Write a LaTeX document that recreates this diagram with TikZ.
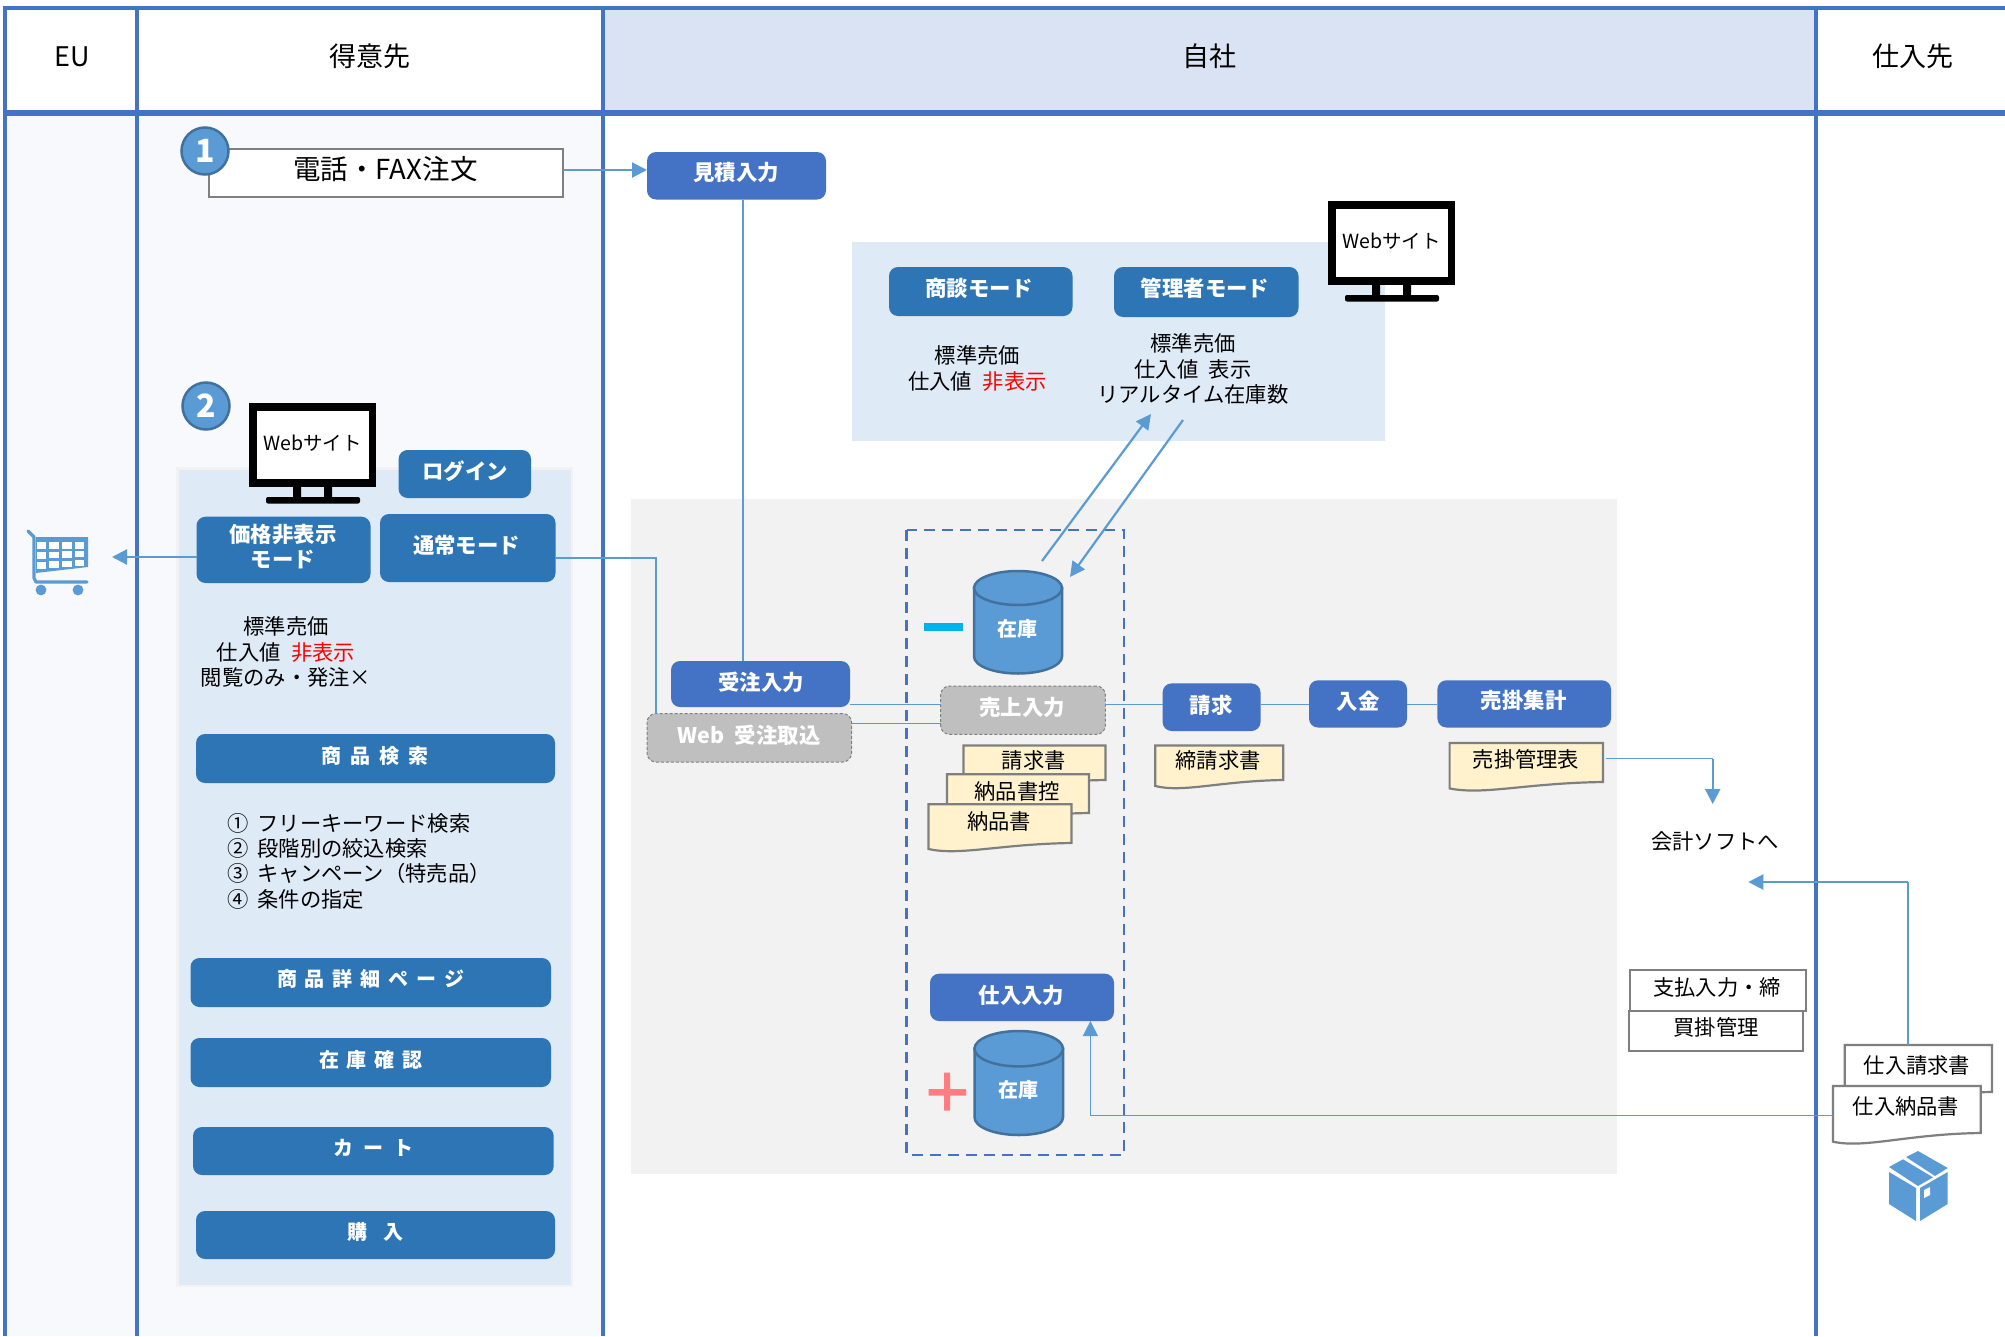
\documentclass[tikz,border=0pt]{standalone}
\usepackage{fontspec}
\setmainfont{Noto Sans CJK JP}
\usetikzlibrary{arrows.meta}
\definecolor{boxblue}{HTML}{4472C4}
\definecolor{midblue}{HTML}{2E75B6}
\definecolor{lineblue}{HTML}{5B9BD5}
\definecolor{cylborder}{HTML}{41719C}
\definecolor{panelblue}{HTML}{DEEAF6}
\definecolor{panelgray}{HTML}{F2F2F2}
\definecolor{bodytint}{HTML}{F8F9FD}
\definecolor{headtint}{HTML}{DAE3F3}
\definecolor{docfill}{HTML}{FFF2CC}
\definecolor{greybd}{HTML}{7F7F7F}
\definecolor{greybox}{HTML}{BFBFBF}
\definecolor{minusc}{HTML}{00B0F0}
\definecolor{plusc}{HTML}{FF7C80}
\newcommand\widesp[2]{\spaceskip=#1em\relax #2}
\tikzset{
  shapebox/.style={inner sep=0pt,outer sep=0pt},
  bluebox/.style={shapebox,fill=boxblue,rounded corners=9pt},
  darkbox/.style={shapebox,fill=midblue,rounded corners=9pt},
  graybox/.style={shapebox,fill=greybox,draw=greybd,densely dashed,line width=1pt,rounded corners=9pt},
  plainbox/.style={shapebox,fill=white,draw=greybd,line width=2.2pt},
  hidden/.style={shapebox},
  fa/.style={inner sep=0pt,font=\fontsize{27}{30}\selectfont,text height=23pt,text depth=4pt},
  fb/.style={inner sep=0pt,font=\fontsize{21.3}{25}\selectfont,text height=18pt,text depth=3pt,yshift=-.6pt},
  fc/.style={inner sep=0pt,font=\fontsize{19.5}{24}\selectfont,text height=17pt,text depth=3pt,yshift=-1pt},
  wb/.style={inner sep=0pt,text=white,font=\bfseries\fontsize{21.4}{25}\selectfont,text height=18pt,text depth=3pt,yshift=-1.4pt},
  ws/.style={inner sep=0pt,text=white,font=\bfseries\fontsize{20}{24}\selectfont,text height=17pt,text depth=3pt,yshift=-.8pt},
  lane/.style={draw=boxblue,line width=3.2pt},
  thin link/.style={draw=lineblue,line width=1.1pt},
  arrow link/.style={draw=lineblue,line width=2.2pt,-{Triangle[length=15pt,width=15pt]}},
  soft arrow/.style={draw=lineblue,line width=1.4pt,-{Triangle[length=15pt,width=15pt]}},
  docpaper/.style={draw=greybd,line width=2.2pt,line join=miter},
  numcircle/.style={circle,fill=lineblue,draw=cylborder,line width=2.5pt,minimum size=47pt,inner sep=0pt,text=white,font=\bfseries\fontsize{32}{36}\selectfont},
}
% name x1 y1 x2 y2 style
\newcommand\bx[6]{%
  \pgfmathsetmacro\bxw{#4-#2}\pgfmathsetmacro\bxh{#5-#3}%
  \pgfmathsetmacro\bxc{(#2+#4)/2}\pgfmathsetmacro\byc{(#3+#5)/2}%
  \node[#6,minimum width=\bxw pt,minimum height=\bxh pt] (#1) at (\bxc,\byc) {};}
% name x y style text
\newcommand\lb[5]{\node[#4] (#1) at (#2,#3) {#5};}
% name x1 y1 x2 yR yL fill
\newcommand\docu[7]{%
  \pgfmathsetmacro\dw{#4-#2}%
  \pgfmathsetmacro\dax{#2+.22*\dw}\pgfmathsetmacro\day{#6+7}%
  \pgfmathsetmacro\dbx{#2+.5*\dw}\pgfmathsetmacro\dby{#5+1}%
  \draw[docpaper,fill=#7] (#2,#3) -- (#4,#3) -- (#4,#5) .. controls (\dbx,\dby) and (\dax,\day) .. (#2,#6) -- cycle;
  \bx{#1}{#2}{#3}{#4}{#6}{hidden}}
% name x1 y1 x2 y2 ry
\newcommand\cyl[6]{%
  \pgfmathsetmacro\crx{(#4-#2)/2}\pgfmathsetmacro\ccx{(#2+#4)/2}%
  \pgfmathsetmacro\ctop{#3+#6}\pgfmathsetmacro\cbot{#5-#6}%
  \draw[fill=lineblue,draw=cylborder,line width=2.5pt] (#2,\ctop) -- (#2,\cbot) arc[start angle=180,end angle=360,x radius=\crx pt,y radius=#6 pt] -- (#4,\ctop) -- cycle;
  \draw[fill=lineblue,draw=cylborder,line width=2.5pt] (\ccx,\ctop) ellipse [x radius=\crx pt,y radius=#6 pt];
  \bx{#1}{#2}{#3}{#4}{#5}{hidden}}
% name x y
\newcommand\monitor[3]{%
  \begin{scope}[shift={(#2,#3)}]
    \fill[black] (0,0) rectangle (127,84);
    \fill[white] (8,8) rectangle (119.5,76);
    \fill[black] (44,84) rectangle (52,95) (75,84) rectangle (83,95);
    \fill[black,rounded corners=2pt] (17,100.5) -- (17,94) -- (111,94) -- (111,100.5) -- cycle;
    \node[fc] (#1) at (63.5,39) {Webサイト};
  \end{scope}}
\begin{document}
\begin{tikzpicture}[x=1pt,y=-1pt]
\useasboundingbox (0,0) rectangle (2005,1336);
\fill[white] (0,0) rectangle (2005,1336);
% lane tints
\fill[bodytint] (5,113) rectangle (603,1336);
\fill[headtint] (603,8) rectangle (1816,113);
% grey and blue panels
\fill[panelgray] (631,499) rectangle (1617,1174);
\fill[panelgray] (176,467) rectangle (573,1287);
\fill[panelblue] (178.5,469.5) rectangle (570.5,1284.5);
\fill[panelblue] (852,242) rectangle (1385,441);
% lanes
\draw[lane] (5,7) -- (5,1336);
\draw[lane] (137,7) -- (137,1336);
\draw[lane] (603,7) -- (603,1336);
\draw[lane] (1816,7) -- (1816,1336);
\draw[lane] (3.4,8) -- (2005,8);
\draw[draw=boxblue,line width=5.5pt] (3.4,113) -- (2005,113);
% header text
\lb{hEU}{72}{57}{fa}{EU}
\lb{hTok}{370}{57}{fa}{得意先}
\lb{hJi}{1209}{57}{fa}{自社}
\lb{hSh}{1913}{57}{fa}{仕入先}
% phone order
\bx{phone}{209}{149}{563}{197}{plainbox}
\lb{phoneT}{385.5}{170}{inner sep=0pt,font=\fontsize{27.5}{30}\selectfont,text height=23pt,text depth=4pt}{電話・FAX注文}
\node[numcircle] (n1) at (205,151) {1};
\node[numcircle] (n2) at (206,406) {2};
% website 2
\monitor{web1}{249}{403}
\bx{login}{398.6}{450}{531}{498}{darkbox}
\lb{loginT}{465}{471}{wb}{ログイン}
\bx{kakaku}{196.5}{516.7}{370.5}{583}{darkbox}
\lb{kakakuT}{283}{534}{wb}{価格非表示}
\lb{kakakuU}{283}{559}{wb}{モード}
\bx{tsujo}{380}{514}{555.5}{582}{darkbox}
\lb{tsujoT}{466.6}{545}{wb}{通常モード}
\lb{p1}{286}{626}{fb}{標準売価}
\lb{p2}{286}{652}{fb}{\widesp{.5}{仕入値 \textcolor{red}{非表示}}}
\lb{p3}{286}{677}{fb}{閲覧のみ・発注×}
\bx{sb1}{196}{734}{555}{783}{darkbox}
\lb{sb1T}{375}{756}{ws}{\widesp{.45}{商 品 検 索}}
\lb{li1}{227}{823}{fb,anchor=west}{\widesp{.42}{① フリーキーワード検索}}
\lb{li2}{227}{848}{fb,anchor=west}{\widesp{.42}{② 段階別の絞込検索}}
\lb{li3}{227}{873}{fb,anchor=west}{\widesp{.42}{③ キャンペーン（特売品）}}
\lb{li4}{227}{899}{fb,anchor=west}{\widesp{.42}{④ 条件の指定}}
\bx{sb2}{190.5}{958}{551}{1007}{darkbox}
\lb{sb2T}{371}{979}{ws}{\widesp{.4}{商 品 詳 細 ペ ー ジ}}
\bx{sb3}{190.5}{1038}{551}{1087}{darkbox}
\lb{sb3T}{371}{1060}{ws}{\widesp{.4}{在 庫 確 認}}
\bx{sb4}{193}{1127}{553.7}{1175}{darkbox}
\lb{sb4T}{373}{1148}{ws}{\widesp{.5}{カ ー ト}}
\bx{sb5}{196}{1211}{555}{1259}{darkbox}
\lb{sb5T}{375}{1232}{ws}{\widesp{.8}{購 入}}
% cart icon
\coordinate (cartr) at (112,557);
\draw[lineblue,line width=3.2pt,line join=round,line cap=round] (28,531) -- (34,537) -- (34,578) -- (36,582) -- (87,582);
\fill[lineblue] (36,537) -- (88,537) -- (88,567) -- (36,573) -- cycle;
\foreach \ci in {0,1,2,3}{\foreach \cj in {0,1,2}{
  \pgfmathsetmacro\xa{36.5+\ci*12.8}\pgfmathsetmacro\ya{542+\cj*10-\ci*.35*\cj}
  \fill[white] (\xa,\ya) rectangle (\xa+9.5,\ya+6.5);}}
\fill[lineblue] (41,590) circle (5.4) (78,590) circle (5.4);
% quote / order
\bx{mitsu}{647}{152}{826}{199.5}{bluebox}
\lb{mitsuT}{736}{172}{wb}{見積入力}
\bx{juchu}{671}{661}{850}{707}{bluebox}
\lb{juchuT}{761}{681.5}{wb}{受注入力}
\bx{webin}{647}{713.5}{851.6}{762}{graybox}
\lb{webinT}{749}{735}{wb}{\widesp{.5}{Web 受注取込}}
% admin panel
\monitor{web2}{1328}{201}
\bx{shodan}{889}{267}{1072.5}{316}{darkbox}
\lb{shodanT}{979}{288}{wb}{商談モード}
\bx{kanri}{1114}{267}{1298.5}{317}{darkbox}
\lb{kanriT}{1205}{288}{wb}{管理者モード}
\lb{q1}{977.5}{355}{fb}{標準売価}
\lb{q2}{977.5}{381}{fb}{\widesp{.5}{仕入値 \textcolor{red}{非表示}}}
\lb{r1}{1193}{343}{fb}{標準売価}
\lb{r2}{1193}{369}{fb}{\widesp{.5}{仕入値 表示}}
\lb{r3}{1193}{394}{fb}{リアルタイム在庫数}
% dashed box
\draw[draw=boxblue,line width=2.5pt,dash pattern=on 11pt off 7pt] (906.7,530) rectangle (1123.8,1155);
% stock
\cyl{zaiko1}{974}{571}{1062}{673.5}{17}
\lb{zaiko1T}{1017}{628}{wb,font=\bfseries\fontsize{20}{24}\selectfont}{在庫}
\fill[minusc] (924.4,622.7) rectangle (963,630.7);
\bx{uriage}{940.6}{686}{1105.4}{734.4}{graybox}
\lb{uriageT}{1022}{707}{wb}{売上入力}
\docu{d1}{963.4}{745.4}{1105.4}{780}{786}{docfill}
\lb{d1T}{1033.7}{760}{fb}{請求書}
\docu{d2}{947}{774.3}{1089}{813}{819}{docfill}
\lb{d2T}{1017}{791}{fb}{納品書控}
\docu{d3}{928.5}{804.3}{1071.5}{843}{849}{docfill}
\lb{d3T}{999}{821}{fb}{納品書}
\bx{shiire}{930}{973.7}{1114}{1021}{bluebox}
\lb{shiireT}{1021.5}{994.4}{wb}{仕入入力}
\cyl{zaiko2}{974.5}{1031}{1063}{1135}{17.7}
\lb{zaiko2T}{1018.6}{1089}{wb,font=\bfseries\fontsize{20}{24}\selectfont}{在庫}
\fill[plusc] (928.5,1089) rectangle (966,1095.5) (944,1072.5) rectangle (950,1110.7);
% billing chain
\bx{seikyu}{1162.6}{683.4}{1260.5}{731}{bluebox}
\lb{seikyuT}{1211}{704.4}{wb}{請求}
\bx{nyukin}{1309}{680.3}{1407}{727.5}{bluebox}
\lb{nyukinT}{1358}{700.6}{wb}{入金}
\bx{urikake}{1437.4}{680.3}{1611}{727.5}{bluebox}
\lb{urikakeT}{1523.7}{700}{wb}{売掛集計}
\docu{d4}{1155.3}{745.4}{1283.3}{780}{786}{docfill}
\lb{d4T}{1218}{760}{fb}{締請求書}
\docu{d5}{1449.6}{743}{1603}{782}{788.4}{docfill}
\lb{d5T}{1526}{759.5}{fb}{売掛管理表}
% accounting
\coordinate (acc) at (1712.7,804);
\lb{accT}{1715}{841.7}{fb}{会計ソフトへ}
\coordinate (kaikei) at (1748.3,882);
\bx{shiharai}{1630}{970}{1805.7}{1011}{plainbox}
\lb{shiharaiT}{1717}{987.7}{fb}{支払入力・締}
\bx{kaikake}{1629}{1011}{1803}{1051}{plainbox}
\lb{kaikakeT}{1716}{1027}{fb}{買掛管理}
\docu{d6}{1844.7}{1045}{1992}{1092}{1098}{white}
\lb{d6T}{1917}{1065.7}{fb}{仕入請求書}
\docu{d7}{1833}{1086}{1980.7}{1133}{1141.7}{white}
\lb{d7T}{1906}{1106.7}{fb}{仕入納品書}
% parcel icon
\fill[lineblue] (1889,1172) -- (1916,1188) -- (1916,1221) -- (1889,1204) -- cycle;
\fill[lineblue] (1920,1188) -- (1947.7,1172) -- (1947.7,1204) -- (1920,1221) -- cycle;
\fill[lineblue] (1889,1167) -- (1903,1159.3) -- (1933,1177.3) -- (1918,1186) -- cycle;
\fill[lineblue] (1906,1157) -- (1918,1151) -- (1947.7,1168) -- (1935,1176) -- cycle;
\fill[white] (1924,1190) -- (1930,1187) -- (1930,1195) -- (1924,1198) -- cycle;
% connectors
\coordinate (y170) at (0,170);
\coordinate (y557) at (0,557);
\coordinate (y558) at (0,558);
\coordinate (y704) at (0,704.4);
\coordinate (y723) at (0,723.3);
\coordinate (y759) at (0,758.7);
\coordinate (y882) at (0,882);
\coordinate (y1116) at (0,1115.7);
\coordinate (x656) at (656,0);
\coordinate (x743) at (743,0);
\coordinate (x1090) at (1090.4,0);
\coordinate (x1908) at (1908,0);
\draw[arrow link] (phone.east |- y170) -- (mitsu.west |- y170);
\draw[arrow link] (kakaku.west |- y557) -- (cartr);
\draw[thin link] (tsujo.east |- y558) -- (x656 |- y558) -- (x656 |- webin.north);
\draw[thin link] (x743 |- mitsu.south) -- (x743 |- juchu.north);
\draw[thin link] (juchu.east |- y704) -- (uriage.west |- y704);
\draw[thin link] (webin.east |- y723) -- (uriage.west |- y723);
\draw[thin link] (uriage.east |- y704) -- (seikyu.west |- y704);
\draw[thin link] (seikyu.east |- y704) -- (nyukin.west |- y704);
\draw[thin link] (nyukin.east |- y704) -- (urikake.west |- y704);
\coordinate (up0) at (1042,561);
\coordinate (up1) at (1151,414);
\coordinate (dn0) at (1183,420);
\coordinate (dn1) at (1070,577);
\draw[arrow link] (up0) -- (up1);
\draw[arrow link] (dn0) -- (dn1);
\coordinate (d5r) at (1605.7,758.7);
\draw[thin link] (d5r) -- (acc |- y759);
\draw[arrow link] (acc |- y759) -- (acc);
\draw[thin link] (x1908 |- d6.north) -- (x1908 |- y882);
\draw[arrow link] (x1908 |- y882) -- (kaikei);
\draw[soft arrow] (d7.west |- y1116) -- (x1090 |- y1116) -- (x1090 |- shiire.south);
\end{tikzpicture}
\end{document}
